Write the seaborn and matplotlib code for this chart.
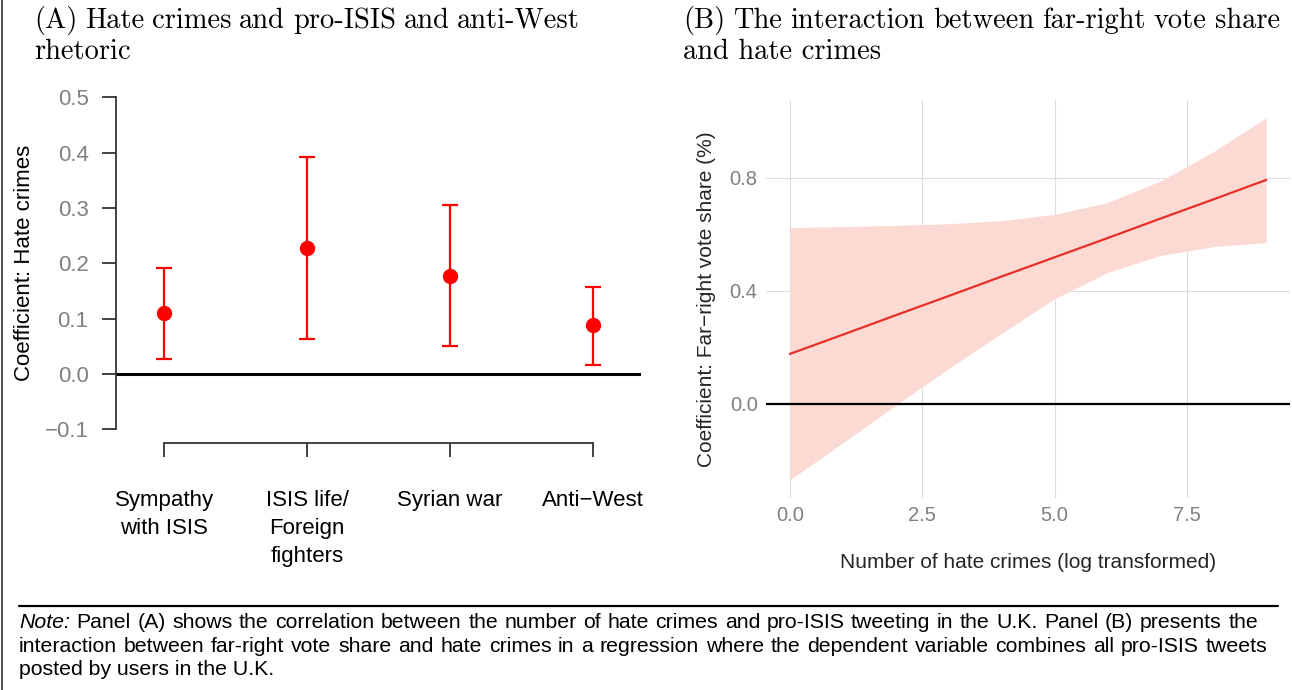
import numpy as np
import pandas as pd
import matplotlib
matplotlib.use("Agg")
import matplotlib.pyplot as plt
import seaborn as sns

# Panel A: coefficients with 95% CIs
categories = ["Sympathy\nwith ISIS", "ISIS life/\nForeign\nfighters", "Syrian war", "Anti\u2212West"]
coef = [0.110, 0.228, 0.178, 0.088]
ci_low = [0.028, 0.064, 0.051, 0.016]
ci_high = [0.192, 0.392, 0.306, 0.158]

# Panel B: marginal effect of far-right vote share by hate crimes
hate_log = [0, 1, 2, 3, 4, 5, 6, 7, 8, 9]
effect = [0.177, 0.245, 0.314, 0.382, 0.451, 0.519, 0.587, 0.656, 0.724, 0.793]
band_low = [-0.269, -0.138, -0.005, 0.125, 0.250, 0.372, 0.465, 0.525, 0.557, 0.571]
band_high = [0.624, 0.628, 0.632, 0.638, 0.649, 0.671, 0.713, 0.789, 0.893, 1.013]

title_a = ["(A) Hate crimes and pro-ISIS and anti-West", "rhetoric"]
title_b = ["(B) The interaction between far-right vote share", "and hate crimes"]
note_lines = [
    "Panel (A) shows the correlation between the number of hate crimes and pro-ISIS tweeting "
    "in the U.K. Panel (B) presents the",
    "interaction between far-right vote share and hate crimes in a regression where the "
    "dependent variable combines all pro-ISIS tweets",
    "posted by users in the U.K.",
]

W, H = 1292, 690

sns.set_theme(style="ticks")
plt.rcParams["font.family"] = ["Liberation Sans", "DejaVu Sans"]

fig = plt.figure(figsize=(W / 100, H / 100), dpi=100)


def justify(words, x0, x1, y, **kw):
    # place words so that the line runs from x0 to x1 (pixels), like LaTeX justified text
    texts = []
    for w in words:
        if isinstance(w, tuple):
            texts.append(fig.text(0, 0, w[0], va="baseline", **{**kw, **w[1]}))
        else:
            texts.append(fig.text(0, 0, w, va="baseline", **kw))
    r = fig.canvas.get_renderer()
    widths = [t.get_window_extent(r).width for t in texts]
    gap = (x1 - x0 - sum(widths)) / (len(texts) - 1)
    x = x0
    for t, wd in zip(texts, widths):
        t.set_position((x / W, 1 - y / H))
        x += wd + gap


# ---------- Panel A ----------
axA = fig.add_axes([0.0900, 0.3586, 0.4061, 0.5194])
dfA = pd.DataFrame({"cat": categories, "coef": coef})
sns.pointplot(data=dfA, x="cat", y="coef", errorbar=None, linestyle="none",
              color="#FF0000", markers="o", markersize=9, ax=axA, zorder=3)
pos = np.arange(len(categories))
axA.errorbar(pos, coef,
             yerr=[np.array(coef) - np.array(ci_low), np.array(ci_high) - np.array(coef)],
             fmt="none", ecolor="#FF0000", elinewidth=1.6, capsize=6, capthick=1.6, zorder=2)
axA.axhline(0, color="black", lw=2.2, zorder=1)
axA.set_xlim(-0.336, 3.336)
axA.set_ylim(-0.124, 0.524)
axA.set_yticks([-0.1, 0.0, 0.1, 0.2, 0.3, 0.4, 0.5])
axA.set_yticklabels(["\u22120.1", "0.0", "0.1", "0.2", "0.3", "0.4", "0.5"])
axA.set_xticks(pos)
axA.set_xticklabels(categories, fontsize=16, color="black", linespacing=1.45)
axA.tick_params(axis="y", labelsize=16, labelcolor="#808080", length=10, width=1.3,
                color="#333333", pad=10)
axA.tick_params(axis="x", length=10, width=1.3, color="#333333", pad=24)
for s in ["top", "right"]:
    axA.spines[s].set_visible(False)
axA.spines["left"].set_bounds(-0.1, 0.5)
axA.spines["bottom"].set_bounds(0, 3)
for s in ["left", "bottom"]:
    axA.spines[s].set_color("#333333")
    axA.spines[s].set_linewidth(1.3)
axA.set_xlabel("")
axA.set_ylabel("Coefficient: Hate crimes", fontsize=16, color="black", labelpad=7)

# ---------- Panel B ----------
axB = fig.add_axes([0.5929, 0.2783, 0.4056, 0.5772])
axB.fill_between(hate_log, band_low, band_high, color="#FBDAD4", lw=0, zorder=1)
sns.lineplot(x=hate_log, y=effect, color="#E8302A", lw=1.6, ax=axB, zorder=3)
axB.axhline(0, color="black", lw=1.6, zorder=2)
axB.set_xlim(-0.45, 9.45)
axB.set_ylim(-0.333, 1.077)
axB.set_xticks([0, 2.5, 5, 7.5])
axB.set_xticklabels(["0.0", "2.5", "5.0", "7.5"])
axB.set_yticks([0.0, 0.4, 0.8])
axB.set_yticklabels(["0.0", "0.4", "0.8"])
axB.grid(True, color="#DCDCDC", lw=0.8)
axB.set_axisbelow(True)
for s in axB.spines.values():
    s.set_visible(False)
axB.tick_params(axis="both", length=0, labelsize=14.5, labelcolor="#808080", pad=6)
axB.set_xlabel("Number of hate crimes (log transformed)", fontsize=15, labelpad=20)
axB.set_ylabel("Coefficient: Far\u2212right vote share (%)", fontsize=15, labelpad=10)

# ---------- Titles ----------
tkw = dict(family="cmr10", fontsize=20.5, color="black")
justify(title_a[0].split(" "), 34, 580, 28, **tkw)
fig.text(34 / W, 1 - 59 / H, title_a[1], va="baseline", **tkw)
justify(title_b[0].split(" "), 683, 1280, 28, **tkw)
fig.text(683 / W, 1 - 59 / H, title_b[1], va="baseline", **tkw)

# ---------- Note ----------
fig.add_artist(plt.Line2D([19 / W, 1278 / W], [1 - 605.5 / H] * 2, color="black", lw=1.6))
fig.add_artist(plt.Line2D([1.8 / W] * 2, [0, 1], color="#333333", lw=1.2))
nkw = dict(fontsize=15.3, color="black")
justify([("Note:", {"fontstyle": "italic"})] + note_lines[0].split(" "), 19, 1258, 628, **nkw)
justify(note_lines[1].split(" "), 19, 1267, 651.5, **nkw)
fig.text(19 / W, 1 - 675 / H, note_lines[2], va="baseline", **nkw)

fig.savefig("out.png", dpi=100)
